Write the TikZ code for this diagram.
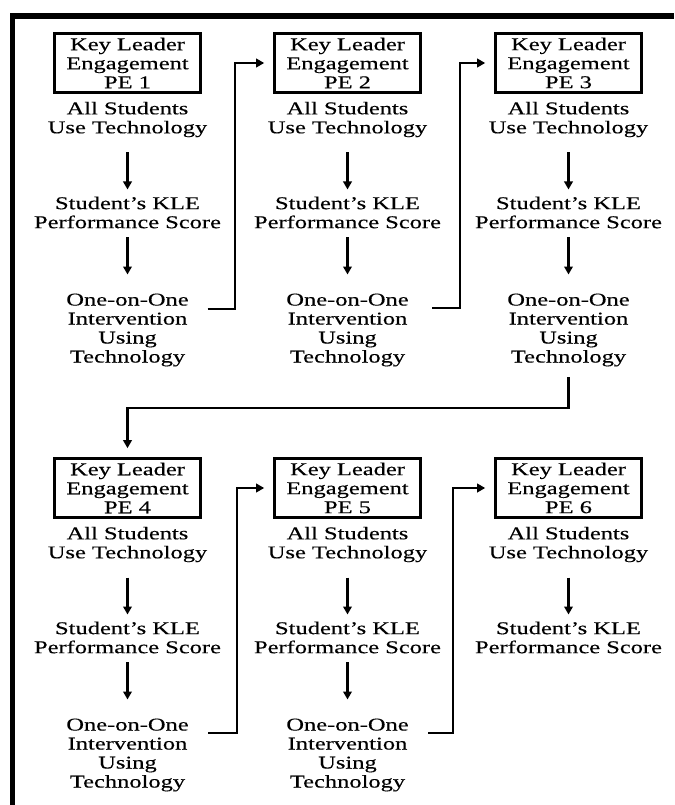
\documentclass[tikz,border=0pt]{standalone}
\usepackage{fontspec}
\setmainfont[FakeStretch=1.36,FakeBold=0.3]{Liberation Serif}
\usetikzlibrary{arrows.meta,calc}
\begin{document}
\begin{tikzpicture}[x=1pt,y=-1pt,
  font=\fontsize{18}{19}\selectfont,
  kbox/.style={draw, line width=2.6pt, minimum width=146pt, minimum height=59pt, inner sep=0pt, align=center},
  txt/.style={align=center, inner sep=0pt},
  arr/.style={line width=2.6pt, -{Triangle[length=8pt,width=8.5pt]}},
  conn/.style={arr, line join=miter, shorten >=9pt}]
\useasboundingbox (0,0) rectangle (674,805);
% frame
\draw[line width=5.5pt, line join=miter] (12.5,805) -- (12.5,16) -- (674,16);
% columns of both rows
\foreach \c/\x/\y in {1/127.5/0, 2/347.5/0, 3/568.5/0, 4/127.5/425, 5/347.5/425, 6/568.5/425}{
  \node[kbox] (pe\c) at (\x,63+\y) {Key Leader\\Engagement\\PE \c};
  \node[txt] (use\c) at (\x,119.5+\y) {All Students\\Use Technology};
  \node[txt] (kle\c) at (\x,212.5+\y) {Student’s KLE\\Performance Score};
  \draw[arr] ($(use\c.center)+(0,33)$) -- ($(kle\c.center)+(0,-23)$);
}
\foreach \c in {1,2,3,4,5}{
  \node[txt] (ooo\c) at ($(kle\c.center)+(0,117.5)$) {One-on-One\\Intervention\\Using\\Technology};
  \draw[arr] ($(kle\c.center)+(0,24.5)$) -- ($(ooo\c.center)+(0,-55.5)$);
}
% connectors
\draw[conn] ($(ooo1.center)+(80,-21)$) -- ++(27.5,0) |- (pe2.west);
\draw[conn] ($(ooo2.center)+(84.5,-22)$) -- ++(28,0) |- (pe3.west);
\draw[conn] ($(ooo3.center)+(0,47)$) -- ++(0,31) -| (pe4.north);
\draw[conn] ($(ooo4.center)+(80.5,-22)$) -- ++(29,0) |- (pe5.west);
\draw[conn] ($(ooo5.center)+(80.5,-22)$) -- ++(25,0) |- (pe6.west);
\end{tikzpicture}
\end{document}
